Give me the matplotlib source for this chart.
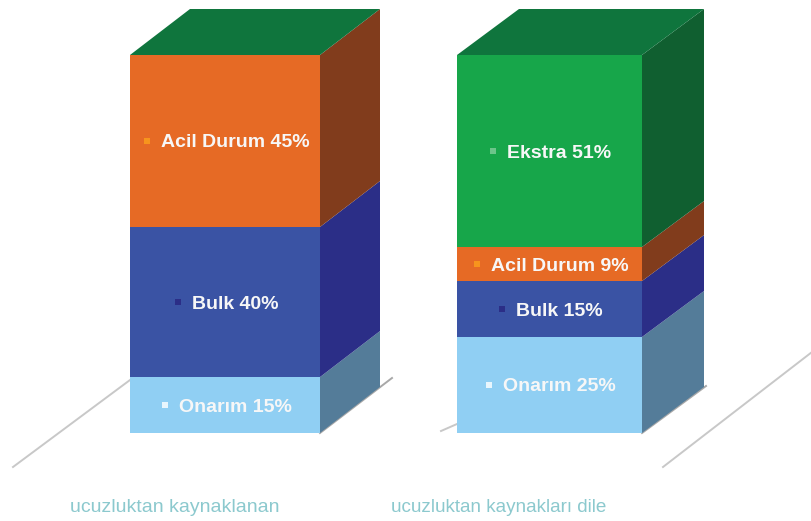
import matplotlib.pyplot as plt
from matplotlib.patches import Polygon

# values read bottom to top, percent of each column
left_names = ["Onarım", "Bulk", "Acil Durum"]
left_values = [14.8, 39.7, 45.5]
left_labels = ["15%", "40%", "45%"]
right_names = ["Onarım", "Bulk", "Acil Durum", "Ekstra"]
right_values = [25.4, 14.8, 9.0, 50.8]
right_labels = ["25%", "15%", "9%", "51%"]
captions = ["ucuzluktan kaynaklanan", "ucuzluktan kaynakları dile"]

front = {"Onarım": "#90CFF3", "Bulk": "#3A53A4", "Acil Durum": "#E66A25", "Ekstra": "#17A64A"}
side = {"Onarım": "#547C99", "Bulk": "#2B2E87", "Acil Durum": "#813C1C", "Ekstra": "#105F30"}
dots = {"Onarım": "#E8F6FD", "Bulk": "#2B2E87", "Acil Durum": "#F7941D", "Ekstra": "#6CC58A"}
TOP_COLOR = "#0F753D"

W, H = 812, 521
PX_PER_UNIT = 3.78  # 100% column is 378 px tall
BASE_PX = 433
DEPTH_Y = 46 / PX_PER_UNIT

plt.rcParams["font.family"] = ["Liberation Sans", "DejaVu Sans"]

fig = plt.figure(figsize=(W / 100, H / 100), dpi=100)
ax = fig.add_axes([0, 0, 1, 1])
ax.set_xlim(0, W)
ax.set_ylim(-(H - BASE_PX) / PX_PER_UNIT, BASE_PX / PX_PER_UNIT)
ax.axis("off")


def draw_column(x0, x1, depth_x, names, values, labels):
    bottom = 0
    for name, val, label in zip(names, values, labels):
        ax.bar((x0 + x1) / 2, val, width=x1 - x0, bottom=bottom, color=front[name], linewidth=0, zorder=3)
        ax.add_patch(Polygon(
            [(x1, bottom), (x1 + depth_x, bottom + DEPTH_Y), (x1 + depth_x, bottom + val + DEPTH_Y), (x1, bottom + val)],
            closed=True, facecolor=side[name], linewidth=0, zorder=3,
        ))
        label_y = bottom + val / 2 - 2 / PX_PER_UNIT
        txt = ax.text((x0 + x1) / 2 + 10, label_y, f"{name} {label}", color="#F7F7F7", fontsize=14,
                      fontweight="bold", ha="center", va="center", zorder=5)
        box = txt.get_window_extent(fig.canvas.get_renderer())
        ax.scatter(box.x0 * W / fig.bbox.width - 14, label_y + 0.5, s=22, marker="s", color=dots[name],
                   linewidth=0, zorder=5)
        bottom += val
    ax.add_patch(Polygon(
        [(x0, bottom), (x0 + depth_x, bottom + DEPTH_Y), (x1 + depth_x, bottom + DEPTH_Y), (x1, bottom)],
        closed=True, facecolor=TOP_COLOR, linewidth=0, zorder=3,
    ))


def floor_line(x0, x1, rise, color="#C8C8C8"):
    ax.plot([x0, x1], [rise[0] / PX_PER_UNIT, rise[1] / PX_PER_UNIT], color=color, lw=1.4, zorder=1)


draw_column(130, 320, 60, left_names, left_values, left_labels)
draw_column(457, 642, 62, right_names, right_values, right_labels)

# floor lines, heights in px above the column base
floor_line(13, 130, (-34, 53))
floor_line(320, 392, (0, 55), color="#A8A8A8")
floor_line(441, 457, (2, 9))
floor_line(642, 706, (0, 47), color="#A8A8A8")
floor_line(663, 812, (-34, 81))

cap_y = -(507 - BASE_PX) / PX_PER_UNIT
ax.text(175, cap_y, captions[0], color="#8CC9CE", fontsize=14, ha="center", va="center")
ax.text(499, cap_y, captions[1], color="#8CC9CE", fontsize=13.6, ha="center", va="center")

fig.savefig("out.png", dpi=100)
plt.close(fig)
